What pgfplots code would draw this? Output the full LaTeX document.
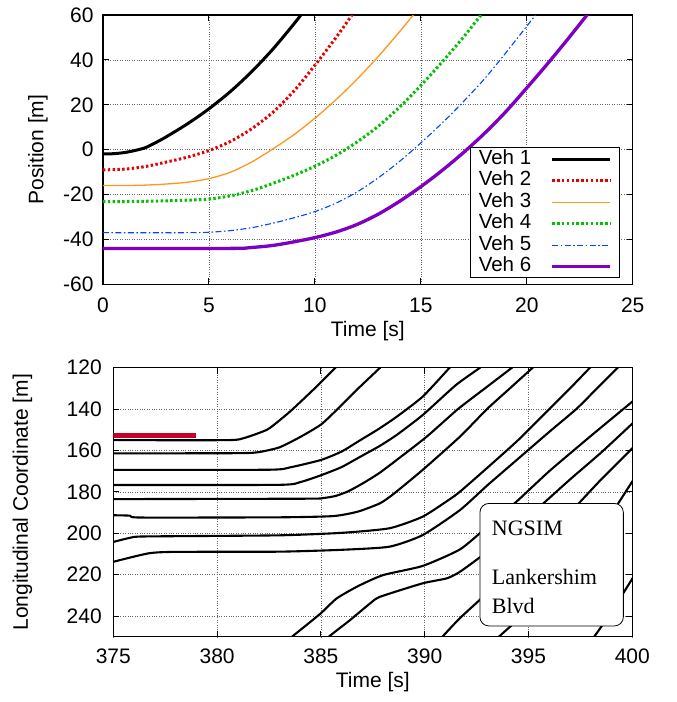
\documentclass[border=0pt]{standalone}
\usepackage{pgfplots}
\pgfplotsset{compat=1.18}
\usepackage{fontspec}
\setmainfont{Liberation Sans}
\newfontfamily\seriffont{Liberation Serif}
\definecolor{vred}{RGB}{228,0,0}
\definecolor{vorange}{RGB}{255,150,30}
\definecolor{vgreen}{RGB}{0,192,0}
\definecolor{vblue}{RGB}{0,70,255}
\definecolor{vpurple}{RGB}{125,0,195}
\definecolor{barred}{RGB}{200,0,40}
\pgfplotsset{
  myaxis/.style={
    scale only axis,
    font=\fontsize{21}{25}\selectfont,
    /pgf/number format/assume math mode=true,
    grid=major,
    major grid style={black!60, line width=0.6pt, dash pattern=on 0.8pt off 1.6pt},
    axis line style={line width=1.2pt},
    tick style={line width=0.9pt, black},
    major tick length=6pt,
    tick align=inside,
    xticklabel style={yshift=-10pt},
    yticklabel style={xshift=-6pt},
  },
  traj/.style={black, line width=2.1pt, line join=round, smooth, tension=0.35},
}
\begin{document}
\begin{tikzpicture}
% ---------------- top axis ----------------
\begin{axis}[myaxis,
  at={(103pt,-284.3pt)}, anchor=south west,
  width=529.7pt, height=269.3pt,
  xmin=0, xmax=25, ymin=-60, ymax=60,
  xtick={0,5,...,25}, ytick={-60,-40,...,60},
  xlabel={Time [s]}, ylabel={Position [m]},
  xlabel style={at={(axis description cs:0.5,-0.173)}, anchor=center},
  ylabel style={at={(axis description cs:-0.123,0.5)}, anchor=center},
  legend plot pos=right,
  legend image code/.code={\draw[#1] (0pt,0pt) -- (58pt,0pt);},
  legend style={at={(0.975,0.022)}, anchor=south east, draw=black,
    line width=0.9pt, fill=white, font=\fontsize{20.5}{20.5}\selectfont,
    inner xsep=7pt, inner ysep=0.5pt, column sep=18pt,
    cells={anchor=west},
    nodes={text height=14.5pt, text depth=4pt, inner ysep=1.5pt, inner xsep=1.5pt}},
]
\addplot[black, line width=3pt, smooth, tension=0.5] coordinates {
(0,-1.9)(0.5,-1.8)(1,-1.3)(1.5,-0.4)(2,0.9)(2.5,3.2)(3,5.8)(4,11.6)(5,18.2)(6,25.8)
(7,34.6)(8,44.6)(9,55.9)(9.5,62)};
\addlegendentry{Veh 1}
\addplot[vred, line width=3pt, dash pattern=on 2.4pt off 2.4pt, smooth, tension=0.5] coordinates {
(0,-9)(1,-8.7)(2,-7.5)(3,-5.5)(4,-3.3)(5,-0.4)(6,3.6)(7,9.2)(8,16.5)(9,26)(10,37.6)
(11,50)(11.75,60)(12,63.5)};
\addlegendentry{Veh 2}
\addplot[vorange, line width=1.3pt, smooth, tension=0.5] coordinates {
(0,-16)(1,-16)(2,-15.8)(3,-15.3)(4,-14.5)(5,-12.9)(6,-10.1)(7,-5.6)(8,0.2)(9,6.6)
(10,14)(11,22.3)(12,31.5)(13,41.6)(14,52.6)(14.6,59.5)(14.8,62)};
\addlegendentry{Veh 3}
\addplot[vgreen, line width=3pt, dash pattern=on 2.4pt off 2.4pt, smooth, tension=0.5] coordinates {
(0,-23.2)(2,-23)(3,-22.8)(4,-22.5)(5,-22)(6,-20.6)(7,-18.3)(8,-15.1)(9,-11.5)(10,-7.4)
(11,-2.5)(12,3.5)(13,10.5)(14,19)(15,28.6)(16,39)(17,50)(17.8,59.5)(18,62)};
\addlegendentry{Veh 4}
\addplot[vblue, line width=1.1pt, dash pattern=on 6pt off 2.5pt on 1.5pt off 2.5pt, smooth, tension=0.5] coordinates {
(0,-37)(4,-37)(5,-36.8)(6,-36.1)(7,-34.8)(8,-32.8)(9,-30.4)(10,-27.6)(11,-23.8)
(12,-18.8)(13,-12.5)(14,-5.2)(15,3)(16,11.8)(17,21.3)(18,31.5)(19,43)(20,55)(20.5,61)};
\addlegendentry{Veh 5}
\addplot[vpurple, line width=3.3pt, smooth, tension=0.5] coordinates {
(0,-44)(6,-44)(7,-43.6)(8,-42.7)(9,-41.1)(10,-39.2)(11,-36.7)(12,-33.3)(13,-28.7)
(14,-23)(15,-16.5)(16,-9.3)(17,-1.4)(18,7.2)(19,16.8)(20,27.5)(21,38.5)(22,50)
(22.8,59.5)(23,62)};
\addlegendentry{Veh 6}
\end{axis}
% ---------------- bottom axis ----------------
\begin{axis}[myaxis,
  at={(113.3pt,-636.7pt)}, anchor=south west,
  width=519pt, height=269pt,
  xmin=375, xmax=400, ymin=120, ymax=250, y dir=reverse,
  xtick={375,380,...,400}, ytick={120,140,...,240},
  xticklabel style={yshift=1pt},
  yticklabel style={xshift=-2pt},
  xlabel={Time [s]}, ylabel={Longitudinal Coordinate [m]},
  xlabel style={at={(axis description cs:0.5,-0.17)}, anchor=center},
  ylabel style={at={(axis description cs:-0.175,0.5)}, anchor=center},
]
\addplot[traj] coordinates {(375,155)(380.5,155)(381.3,154)(382.4,150)(383,145.5)(383.6,140.4)(384.7,130)(385.7,120)(385.9,118)};
\addplot[traj] coordinates {(375,161.4)(381,161.3)(382,160.8)(383,158.5)(384,153.5)(385,147.5)(385.8,140)(386.8,130)(387.85,120)(388.1,117)};
\addplot[traj] coordinates {(375,169.4)(382.5,169.3)(383.5,168.2)(385,164.6)(386,160.5)(386.9,155)(387.8,149.5)(388.65,143.7)(389.9,134)(391.2,120)(391.4,118)};
\addplot[traj] coordinates {(375,176.7)(383,176.6)(384,175.3)(385,172)(386,168)(386.9,163)(387.8,158)(388.65,152.5)(389.9,142.9)(391.5,128.4)(392.66,120)(392.9,117.5)};
\addplot[traj] coordinates {(375,183.5)(384.3,183.3)(385.1,183)(385.7,182)(386.3,179.8)(387,176)(387.8,171)(388.65,164.6)(390.1,153.3)(391.6,140)(392.9,130)(394.2,120)(394.4,118)};
\addplot[traj] coordinates {(375,191.3)(375.8,191.5)(376.3,192.4)(383,192.3)(385.6,191.7)(386.8,189.5)(387.85,185.5)(388.5,181)(389.9,169.4)(391.7,153.3)(393,140)(394.1,130)(395.2,120)(395.4,118)};
\addplot[traj] coordinates {(375,204.2)(376,201.8)(377,201.5)(383,201)(386,199.8)(388.3,197.6)(389.9,192)(391.2,183.6)(391.7,179.9)(393,168.5)(394.5,155)(396,140)(397,130)(397.96,120)(398.2,117.5)};
\addplot[traj] coordinates {(375,213.8)(376.7,209.7)(378,209)(383,208.9)(386,208)(388.3,206.5)(389.9,200.9)(391.7,188.8)(393,177)(394.5,164)(396,151)(397.3,140)(398.3,130)(399.3,120)(399.5,118)};
\addplot[traj] coordinates {(383.4,252)(383.67,249.5)(384.96,239)(385.76,231.5)(386.8,225.5)(388,220.2)(389.9,215.8)(391.7,207.8)(393,197)(394.5,184)(396,170)(398,153)(400,136.4)(400.3,134)};
\addplot[traj] coordinates {(385.2,252)(385.44,249.5)(386.4,242)(387.37,233.9)(387.85,230.7)(389.9,224.2)(391.06,221.8)(391.7,218.6)(393,209)(395,192)(397,174)(398.5,161)(400,147)(400.3,144)};
\addplot[traj] coordinates {(390.7,252)(390.9,249.5)(391.7,241)(393,229)(395,210)(397,190)(398.5,174)(400,159)(400.3,156)};
\addplot[traj] coordinates {(393.4,252)(393.63,249.5)(395,237)(397,216)(398.5,198)(400,175)(400.3,171)};
\addplot[traj] coordinates {(398,252)(398.2,249.5)(399,238)(400,222)(400.3,218)};
\addplot[barred, line width=5pt] coordinates {(375,152.9)(379,152.9)};
\draw[black, line width=0.8pt, fill=white, rounded corners=9pt]
  (axis cs:392.66,185.6) rectangle (axis cs:399.57,244.8);
\node[anchor=base west, inner sep=0pt, font=\seriffont\fontsize{22}{22}\selectfont] at (axis cs:393.23,200.9) {NGSIM};
\node[anchor=base west, inner sep=0pt, font=\seriffont\fontsize{22}{22}\selectfont] at (axis cs:393.23,225) {Lankershim};
\node[anchor=base west, inner sep=0pt, font=\seriffont\fontsize{22}{22}\selectfont] at (axis cs:393.23,238.6) {Blvd};
\end{axis}
\path (0pt,0pt) (677pt,-702pt);
\end{tikzpicture}
\end{document}
